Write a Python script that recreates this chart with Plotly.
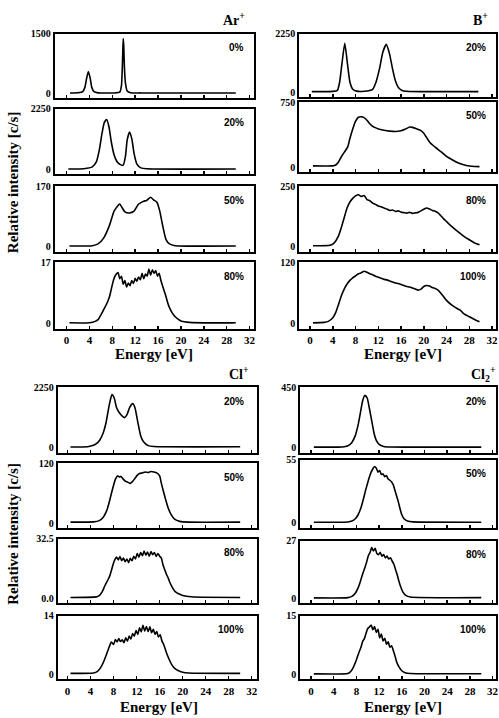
import plotly.graph_objects as go

# ---------------- data (energy in eV, intensity in c/s) ----------------
ar0_e = [0.6, 2.0, 2.8, 3.2, 3.5, 3.8, 4.1, 4.4, 4.8, 5.5, 8.5, 9.3, 9.6, 9.8, 9.9, 10.0, 10.1, 10.3, 10.6, 11.2, 13.0, 29.6]
ar0_i = [10, 15, 40, 150, 380, 550, 400, 150, 40, 12, 10, 30, 200, 900, 1380, 1200, 700, 250, 60, 15, 10, 10]

ar20_e = [0.3, 3.0, 4.5, 5.2, 5.7, 6.2, 6.6, 7.0, 7.4, 7.8, 8.3, 8.8, 9.4, 9.9, 10.3, 10.6, 11.0, 11.4, 11.8, 12.3, 13.0, 14.0, 29.6]
ar20_i = [20, 30, 100, 280, 700, 1350, 1750, 1860, 1600, 1050, 550, 300, 180, 160, 500, 1100, 1390, 1150, 600, 200, 60, 25, 20]

ar50_e = [0.5, 4.5, 5.5, 6.5, 7.5, 8.3, 8.9, 9.3, 9.7, 10.2, 11.0, 11.8, 12.5, 13.0, 13.5, 14.0, 14.7, 15.2, 15.8, 16.3, 16.8, 17.4, 18.0, 19.0, 29.6]
ar50_i = [2, 3, 8, 25, 60, 100, 114, 120, 110, 98, 95, 100, 118, 124, 128, 130, 139, 132, 125, 100, 60, 20, 8, 3, 2]

ar80_e = [0.5, 4.0, 5.0, 5.5, 6.0, 6.5, 7.0, 7.5, 7.8, 8.1, 8.4, 8.7, 9.0, 9.3, 9.6, 9.9, 10.2, 10.5, 10.8, 11.1,
          11.4, 11.7, 12.0, 12.3, 12.6, 12.9, 13.2, 13.5, 13.8, 14.1, 14.4, 14.7, 15.0, 15.3, 15.6, 15.9, 16.2,
          16.5, 16.8, 17.1, 17.4, 17.7, 18.0, 18.5, 19.0, 19.5, 20.0, 21.0, 22.0, 29.6]
ar80_i = [0.3, 0.3, 0.7, 1.2, 2.5, 4.0, 5.5, 7.5, 9.5, 11.5, 13.0, 13.8, 14.2, 12.5, 13.2, 11.0, 12.0, 10.2, 11.3, 10.6,
          12.0, 11.2, 12.6, 11.8, 13.0, 12.2, 14.0, 12.5, 13.8, 13.2, 15.2, 13.5, 15.0, 14.0, 14.8, 13.2, 14.0,
          12.0, 10.5, 9.0, 7.5, 5.8, 4.5, 3.0, 2.0, 1.3, 0.8, 0.5, 0.35, 0.3]

b20_e = [0.3, 4.0, 4.8, 5.2, 5.6, 6.1, 6.6, 7.0, 7.5, 8.2, 9.5, 11.0, 11.6, 12.2, 12.8, 13.4, 14.0, 14.5, 15.0, 15.6, 16.3, 17.5, 29.6]
b20_i = [30, 40, 80, 400, 1100, 1880, 1050, 400, 120, 50, 45, 120, 400, 900, 1550, 1840, 1450, 900, 450, 170, 60, 35, 30]

b50_e = [0.5, 4.0, 4.5, 5.0, 5.5, 6.0, 6.6, 7.0, 7.5, 8.0, 8.5, 9.0, 9.5, 10.0, 10.5, 11.0, 11.5, 12.0, 13.0, 14.0,
         15.0, 16.0, 16.8, 17.5, 18.0, 18.8, 19.5, 20.0, 20.5, 21.0, 22.0, 23.0, 24.0, 25.0, 26.0, 27.0, 28.0, 29.0, 29.8]
b50_i = [15, 15, 25, 60, 120, 170, 230, 330, 440, 530, 575, 580, 570, 540, 500, 470, 455, 440, 425, 415,
         410, 420, 440, 462, 458, 440, 420, 390, 340, 290, 230, 180, 125, 85, 50, 28, 14, 8, 6]

b80_e = [0.5, 3.5, 4.2, 5.0, 5.5, 6.0, 6.5, 7.0, 7.5, 8.0, 8.5, 9.0, 9.5, 10.0, 10.5, 11.0, 11.5, 12.0, 12.5, 13.0,
         13.5, 14.0, 14.5, 15.0, 15.5, 16.0, 16.5, 17.0, 17.5, 18.0, 18.5, 19.0, 19.5, 20.0, 20.5, 21.0, 21.5,
         22.0, 22.5, 23.0, 23.5, 24.0, 25.0, 26.0, 27.0, 28.0, 29.0, 29.8]
b80_i = [4, 6, 15, 45, 80, 120, 160, 185, 200, 210, 215, 208, 212, 195, 190, 180, 175, 168, 165, 160,
         156, 150, 152, 146, 148, 143, 141, 139, 142, 138, 140, 142, 148, 155, 160, 156, 150,
         147, 140, 128, 115, 104, 82, 62, 44, 29, 15, 8]

b100_e = [0.5, 2.5, 3.2, 4.0, 4.5, 5.0, 5.5, 6.0, 6.5, 7.0, 7.5, 8.0, 8.5, 9.0, 9.5, 10.0, 10.5, 11.0, 11.5, 12.0,
          12.5, 13.0, 13.5, 14.0, 14.5, 15.0, 15.5, 16.0, 16.5, 17.0, 17.5, 18.0, 18.5, 19.0, 19.5, 20.0, 20.5,
          21.0, 21.5, 22.0, 22.5, 23.0, 23.5, 24.0, 25.0, 26.0, 26.5, 27.0, 28.0, 29.0, 29.8]
b100_i = [2, 3, 5, 12, 22, 38, 55, 68, 78, 85, 90, 94, 98, 100, 103, 101, 98, 96, 93, 91,
          89, 87, 86, 84, 82, 80, 79, 77, 75, 73, 72, 70, 68, 66, 68, 73, 75,
          74, 71, 69, 66, 60, 53, 46, 36, 29, 26, 20, 14, 8, 4]

cl20_e = [0.5, 3.5, 4.5, 5.0, 5.6, 6.2, 6.7, 7.2, 7.7, 8.1, 8.5, 9.0, 9.5, 9.9, 10.3, 10.8, 11.3, 11.7, 12.2, 12.7, 13.2, 14.0, 15.0, 30.0]
cl20_i = [30, 40, 90, 150, 290, 560, 950, 1550, 1980, 1850, 1500, 1300, 1180, 1120, 1220, 1500, 1640, 1500, 950, 450, 220, 80, 45, 35]

cl50_e = [0.5, 4.5, 5.5, 6.2, 6.8, 7.3, 7.8, 8.3, 8.7, 9.0, 9.3, 9.7, 10.1, 10.5, 10.9, 11.3, 11.7, 12.1, 12.5, 13.0,
          13.5, 14.0, 14.5, 15.0, 15.5, 16.0, 16.3, 16.7, 17.1, 17.5, 18.0, 18.6, 19.5, 21.0, 30.0]
cl50_i = [2, 2.5, 5, 12, 25, 45, 68, 88, 95, 93, 94, 88, 84, 82, 80, 84, 90, 96, 100, 101,
          103, 102, 104, 103, 101, 95, 80, 62, 45, 30, 17, 8, 3.5, 2, 2]

cl80_e = [0.5, 5.0, 5.5, 6.0, 6.5, 7.0, 7.3, 7.6, 7.9, 8.2, 8.5, 8.8, 9.1, 9.4, 9.7, 10.0, 10.3, 10.6, 10.9, 11.2,
          11.5, 11.8, 12.1, 12.4, 12.7, 13.0, 13.3, 13.6, 13.9, 14.2, 14.5, 14.8, 15.1, 15.4, 15.7, 16.0, 16.3,
          16.6, 16.9, 17.2, 17.5, 17.8, 18.2, 18.6, 19.0, 19.5, 20.0, 21.0, 22.0, 30.0]
cl80_i = [0.5, 0.8, 1.5, 3.5, 7.0, 10.0, 12.0, 15.0, 18.5, 21.0, 22.5, 21.0, 22.8, 20.5, 22.0, 20.0, 21.5, 19.5, 21.8, 20.5,
          23.0, 21.5, 24.5, 22.5, 25.0, 23.2, 25.8, 23.5, 25.2, 23.0, 25.5, 23.8, 25.0, 22.8, 24.5, 23.0, 22.0,
          18.0, 15.5, 13.0, 11.0, 8.5, 6.0, 4.0, 3.0, 2.2, 1.6, 1.0, 0.7, 0.5]

cl100_e = [0.5, 4.5, 5.2, 5.8, 6.3, 6.8, 7.2, 7.6, 8.0, 8.3, 8.6, 8.9, 9.2, 9.5, 9.8, 10.1, 10.4, 10.7, 11.0, 11.3,
           11.6, 11.9, 12.2, 12.5, 12.8, 13.1, 13.4, 13.7, 14.0, 14.3, 14.6, 14.9, 15.2, 15.5, 15.8, 16.1, 16.4,
           16.7, 17.0, 17.3, 17.7, 18.1, 18.6, 19.2, 20.0, 21.0, 30.0]
cl100_i = [0.3, 0.4, 0.8, 1.8, 3.2, 5.0, 6.5, 7.8, 7.2, 8.4, 7.8, 8.6, 7.9, 8.3, 7.6, 8.8, 8.0, 9.2, 8.5, 9.8,
           9.2, 10.5, 9.6, 11.2, 10.2, 11.8, 10.4, 11.5, 10.3, 11.4, 10.0, 10.8, 9.6, 10.3, 9.0, 9.5, 8.0,
           7.2, 6.0, 4.8, 3.5, 2.4, 1.5, 1.0, 0.6, 0.4, 0.3]

cl2_20_e = [0.5, 5.5, 6.5, 7.2, 7.8, 8.3, 8.7, 9.1, 9.5, 9.9, 10.3, 10.7, 11.1, 11.5, 12.0, 12.8, 14.0, 30.0]
cl2_20_i = [5, 6, 15, 40, 90, 170, 260, 350, 390, 370, 290, 200, 110, 55, 25, 10, 6, 5]

cl2_50_e = [0.5, 6.5, 7.2, 7.8, 8.3, 8.8, 9.2, 9.6, 10.0, 10.3, 10.6, 10.9, 11.2, 11.5, 11.8, 12.1, 12.4, 12.7, 13.0,
            13.3, 13.6, 13.9, 14.2, 14.5, 14.8, 15.1, 15.4, 15.7, 16.0, 16.4, 17.0, 18.0, 30.0]
cl2_50_i = [0.5, 0.7, 1.5, 3.5, 7, 13, 20, 28, 35, 40, 44, 47, 49, 47.5, 44, 45.5, 42, 42.5, 40,
            41, 38, 37, 35.5, 33, 28, 23, 18, 12, 7, 3.5, 1.5, 0.8, 0.5]

cl2_80_e = [0.5, 6.5, 7.2, 7.8, 8.3, 8.7, 9.1, 9.5, 9.8, 10.1, 10.4, 10.7, 11.0, 11.3, 11.6, 11.9, 12.2, 12.5, 12.8,
            13.1, 13.4, 13.7, 14.0, 14.3, 14.6, 14.9, 15.2, 15.5, 15.8, 16.2, 16.7, 17.5, 30.0]
cl2_80_i = [0.3, 0.4, 1.0, 2.5, 5.0, 8.0, 11.5, 14.5, 17.0, 20.0, 21.5, 23.8, 22.2, 23.5, 21.0, 20.5, 21.6, 19.8, 20.5,
            19.0, 19.8, 18.5, 19.0, 17.5, 16.0, 13.5, 11.0, 8.0, 5.5, 3.0, 1.5, 0.7, 0.4]

cl2_100_e = [0.5, 6.5, 7.0, 7.5, 8.0, 8.4, 8.8, 9.1, 9.4, 9.7, 10.0, 10.3, 10.6, 10.9, 11.2, 11.5, 11.8, 12.1, 12.4,
             12.7, 13.0, 13.3, 13.6, 13.9, 14.2, 14.5, 14.8, 15.1, 15.5, 16.0, 16.6, 17.5, 30.0]
cl2_100_i = [0.2, 0.3, 0.8, 2.0, 3.8, 5.5, 7.0, 8.5, 9.2, 10.6, 11.8, 12.2, 12.7, 11.5, 12.3, 10.8, 11.6, 9.4, 10.4,
             8.6, 9.3, 7.8, 8.4, 7.0, 7.4, 6.2, 4.8, 3.2, 2.0, 1.0, 0.5, 0.3, 0.25]

x_ticks = [0, 4, 8, 12, 16, 20, 24, 28, 32]
group_titles = ["Ar<sup>+</sup>", "B<sup>+</sup>", "Cl<sup>+</sup>", "Cl<sub>2</sub><sup>+</sup>"]

# ---------------- layout helpers ----------------
W, H = 499, 718


def fx(p):
    return p / W


def fy(p):
    return 1 - p / H


SERIF = "Liberation Serif"
SANS = "Liberation Sans"

# (energy, intensity, x-domain px, y-domain px (top,bottom), x-range, y max, y tick texts, pct label, show x labels)
panels = [
    (ar0_e, ar0_i, (55, 256), (28, 93), (-2.09, 32.87), 1500, ["0", "1500"], "0%", False),
    (ar20_e, ar20_i, (55, 256), (104, 170), (-2.09, 32.87), 2250, ["0", "2250"], "20%", False),
    (ar50_e, ar50_i, (55, 256), (182, 248), (-2.09, 32.87), 170, ["0", "170"], "50%", False),
    (ar80_e, ar80_i, (55, 256), (259, 326), (-2.09, 32.87), 17, ["0", "17"], "80%", True),
    (b20_e, b20_i, (301, 499), (28, 92), (-1.92, 32.7), 2250, ["0", "2250"], "20%", False),
    (b50_e, b50_i, (301, 499), (97, 168), (-1.92, 32.7), 750, ["0", "750"], "50%", False),
    (b80_e, b80_i, (301, 499), (182, 248), (-1.92, 32.7), 250, ["0", "250"], "80%", False),
    (b100_e, b100_i, (301, 499), (259, 326), (-1.92, 32.7), 120, ["0", "120"], "100%", True),
    (cl20_e, cl20_i, (58, 259), (385, 451), (-1.73, 33.0), 2250, ["0", "2250"], "20%", False),
    (cl50_e, cl50_i, (58, 259), (462, 527), (-1.73, 33.0), 120, ["0", "120"], "50%", False),
    (cl80_e, cl80_i, (58, 259), (538, 603), (-1.73, 33.0), 32.5, ["0.0", "32.5"], "80%", False),
    (cl100_e, cl100_i, (58, 259), (616, 680), (-1.73, 33.0), 14, ["0", "14"], "100%", True),
    (cl2_20_e, cl2_20_i, (302, 499), (385, 451), (-1.91, 32.6), 450, ["0", "450"], "20%", False),
    (cl2_50_e, cl2_50_i, (302, 499), (458, 527), (-1.91, 32.6), 55, ["0", "55"], "50%", False),
    (cl2_80_e, cl2_80_i, (302, 499), (540, 603), (-1.91, 32.6), 27, ["0", "27"], "80%", False),
    (cl2_100_e, cl2_100_i, (302, 499), (616, 680), (-1.91, 32.6), 15, ["0", "15"], "100%", True),
]

fig = go.Figure()
layout = {}
annotations = []

for k, (e, inten, xd, yd, xr, ymax, ytxt, pct, showx) in enumerate(panels):
    n = k + 1
    xa = "x" if n == 1 else f"x{n}"
    ya = "y" if n == 1 else f"y{n}"
    fig.add_trace(go.Scatter(
        x=e, y=inten, xaxis=xa, yaxis=ya, mode="lines",
        line=dict(color="black", width=1.6, shape="spline", smoothing=0.5),
        showlegend=False, hoverinfo="skip"))
    xkey = "xaxis" if n == 1 else f"xaxis{n}"
    ykey = "yaxis" if n == 1 else f"yaxis{n}"
    layout[xkey] = dict(
        domain=[fx(xd[0]), min(1.0, fx(xd[1]))], range=list(xr), anchor=ya,
        showgrid=False, zeroline=False, showline=True, linecolor="black", linewidth=2,
        mirror=True, ticks="inside", ticklen=3, tickwidth=1.5, tickcolor="black",
        tickvals=x_ticks, ticktext=[str(t) for t in x_ticks], showticklabels=showx,
        ticklabeloverflow="allow",
        tickfont=dict(family=SERIF, size=11, color="black", weight="bold"))
    layout[ykey] = dict(
        domain=[fy(yd[1]), fy(yd[0])], range=[-0.08 * ymax, ymax], anchor=xa,
        showgrid=False, zeroline=False, showline=True, linecolor="black", linewidth=2,
        mirror=True, ticks="", tickvals=[0, ymax], ticktext=ytxt,
        tickfont=dict(family=SERIF, size=10, color="black", weight="bold"))
    annotations.append(dict(
        x=fx(247 if xd[0] < 150 else 491), y=fy(yd[0] + 14), xref="paper", yref="paper",
        text=pct, showarrow=False, xanchor="right", yanchor="middle",
        font=dict(family=SANS, size=10, color="black", weight="bold")))

# group titles
for txt, (px_, py_) in zip(group_titles, [(235, 13), (483, 13), (240, 371), (486, 372)]):
    annotations.append(dict(x=fx(px_), y=fy(py_), xref="paper", yref="paper", text=txt,
                            showarrow=False, xanchor="center", yanchor="middle",
                            font=dict(family=SERIF, size=14, color="black", weight="bold")))

# axis titles
for px_, py_ in [(155, 351), (405, 351), (160, 708), (405, 708)]:
    annotations.append(dict(x=fx(px_), y=fy(py_), xref="paper", yref="paper", text="Energy [eV]",
                            showarrow=False, xanchor="center", yanchor="middle",
                            font=dict(family=SERIF, size=15, color="black", weight="bold")))
for py_ in [178, 533]:
    annotations.append(dict(x=fx(13), y=fy(py_), xref="paper", yref="paper",
                            text="Relative intensity [c/s]", textangle=-90,
                            showarrow=False, xanchor="center", yanchor="middle",
                            font=dict(family=SERIF, size=15, color="black", weight="bold")))

fig.update_layout(
    width=W, height=H, margin=dict(l=0, r=0, t=0, b=0),
    paper_bgcolor="white", plot_bgcolor="white",
    annotations=annotations, **layout)

fig.write_html(
    "out.html",
    config={"displayModeBar": False, "staticPlot": True},
    post_script="document.body.style.margin='0px';document.body.style.overflow='hidden';",
)
